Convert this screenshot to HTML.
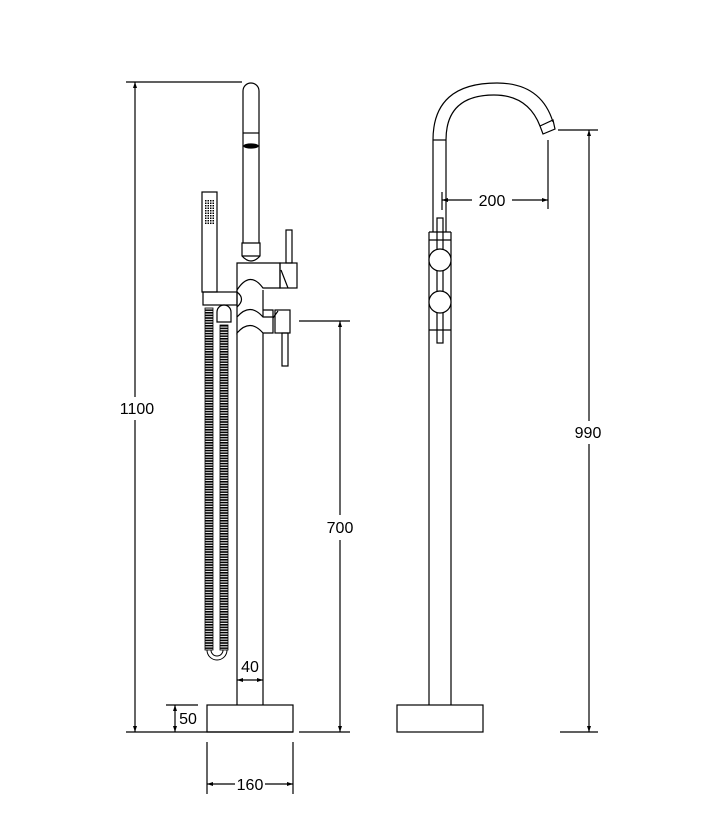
<!DOCTYPE html>
<html><head><style>html,body{margin:0;padding:0;background:#fff}svg{display:block}text{font-family:"Liberation Sans",Arial,sans-serif;font-size:16px;fill:#000}</style></head>
<body>
<svg width="723" height="839" viewBox="0 0 723 839" xmlns="http://www.w3.org/2000/svg">
<defs>
<pattern id="hs" width="8" height="2.6" patternUnits="userSpaceOnUse"><rect width="8" height="1.6" fill="#000"/></pattern>
<pattern id="dots" width="2.5" height="2.5" patternUnits="userSpaceOnUse"><rect width="1.5" height="1.5" fill="#000"/></pattern>
<marker id="a" viewBox="0 0 6 6" refX="6" refY="3" markerWidth="5" markerHeight="5" orient="auto-start-reverse"><path d="M0,1 L6,3 L0,5z" fill="#000"/></marker>
</defs>
<g fill="none" stroke="#000" stroke-width="1.2">
<!-- LEFT VIEW -->
<path d="M243,243 V91 A8,8 0 0 1 259,91 V243"/>
<line x1="243" y1="133" x2="259" y2="133"/>
<ellipse cx="251" cy="146" rx="7" ry="2" fill="#000"/>
<path d="M242,243 H260 V256 Q251,266 242,256 Z"/>
<line x1="242" y1="256" x2="260" y2="256"/>
<!-- upper body -->
<path d="M237,263 H280 V288 H263 Q250,270 237,290 Z"/>
<rect x="286" y="230" width="6" height="33"/>
<rect x="280" y="263" width="17" height="25"/>
<line x1="281" y1="270" x2="288" y2="288"/>
<!-- connector -->
<line x1="237" y1="290" x2="237" y2="317"/>
<line x1="263" y1="290" x2="263" y2="317"/>
<!-- holder -->
<rect x="203" y="292" width="34" height="13"/>
<path d="M237,292 Q246,299 237,307"/>
<!-- lower body -->
<path d="M237,317 Q250,302 263,317 H273 V333 H263 Q250,318 237,333 Z"/>
<path d="M263,310 H273 V317"/>
<rect x="275" y="310" width="15" height="23"/>
<line x1="273" y1="318" x2="278" y2="311"/>
<rect x="282" y="333" width="6" height="33"/>
<!-- handshower -->
<rect x="202" y="192" width="15" height="100"/>
<rect x="205" y="200" width="9" height="25" fill="url(#dots)" stroke="none"/>
<!-- stem -->
<line x1="237" y1="333" x2="237" y2="705"/>
<line x1="263" y1="333" x2="263" y2="705"/>
<!-- hoses -->
<rect x="205" y="308" width="8" height="342" fill="url(#hs)" stroke="#000" stroke-width="0.8"/>
<rect x="220" y="325" width="8" height="325" fill="url(#hs)" stroke="#000" stroke-width="0.8"/>
<path d="M217,322 V312 A7,7 0 0 1 231,312 V322 Z"/>
<path d="M207,650 A10,10 0 0 0 227,650 M211,650 A6,6 0 0 0 223,650" stroke-width="1"/>
<!-- base -->
<rect x="207" y="705" width="86" height="27"/>
<!-- dims left -->
<line x1="126" y1="82" x2="242" y2="82"/>
<line x1="126" y1="732" x2="293" y2="732"/>
<line x1="299" y1="732" x2="350" y2="732"/>
<line x1="135" y1="82" x2="135" y2="397" marker-start="url(#a)"/>
<line x1="135" y1="420" x2="135" y2="732" marker-end="url(#a)"/>
<line x1="166" y1="705" x2="198" y2="705"/>
<line x1="175" y1="705" x2="175" y2="732" marker-start="url(#a)" marker-end="url(#a)"/>
<line x1="299" y1="321" x2="350" y2="321"/>
<line x1="340" y1="321" x2="340" y2="515" marker-start="url(#a)"/>
<line x1="340" y1="540" x2="340" y2="732" marker-end="url(#a)"/>
<line x1="237" y1="680" x2="263" y2="680" marker-start="url(#a)" marker-end="url(#a)"/>
<line x1="207" y1="742" x2="207" y2="794"/>
<line x1="293" y1="742" x2="293" y2="794"/>
<line x1="207" y1="784" x2="235" y2="784" marker-start="url(#a)"/>
<line x1="265" y1="784" x2="293" y2="784" marker-end="url(#a)"/>
<!-- RIGHT VIEW -->
<path d="M433,140 Q433,83 497,83 Q541,83 553,122"/>
<path d="M446,140 Q446,95 494,95 Q528,95 540,126"/>
<path d="M540,126 L553,120 L555,129 L543,134 Z"/>
<line x1="433" y1="140" x2="446" y2="140"/>
<line x1="433" y1="140" x2="433" y2="232"/>
<line x1="446" y1="140" x2="446" y2="232"/>
<rect x="437" y="218" width="6" height="125"/>
<line x1="429" y1="232" x2="429" y2="705"/>
<line x1="451" y1="232" x2="451" y2="705"/>
<line x1="429" y1="232" x2="451" y2="232"/>
<line x1="429" y1="240" x2="451" y2="240"/>
<line x1="429" y1="330" x2="451" y2="330"/>
<circle cx="440" cy="260" r="11" fill="#fff"/>
<circle cx="440" cy="302" r="11" fill="#fff"/>
<rect x="397" y="705" width="86" height="27"/>
<!-- dims right -->
<line x1="548" y1="140" x2="548" y2="209"/>
<line x1="442" y1="192" x2="442" y2="210"/>
<line x1="442" y1="200" x2="472" y2="200" marker-start="url(#a)"/>
<line x1="512" y1="200" x2="548" y2="200" marker-end="url(#a)"/>
<line x1="558" y1="130" x2="598" y2="130"/>
<line x1="560" y1="732" x2="598" y2="732"/>
<line x1="589" y1="130" x2="589" y2="421" marker-start="url(#a)"/>
<line x1="589" y1="444" x2="589" y2="732" marker-end="url(#a)"/>
</g>
<g>
<text x="137" y="414" text-anchor="middle">1100</text>
<text x="340" y="533" text-anchor="middle">700</text>
<text x="250" y="672" text-anchor="middle">40</text>
<text x="188" y="724" text-anchor="middle">50</text>
<text x="250" y="790" text-anchor="middle">160</text>
<text x="492" y="206" text-anchor="middle">200</text>
<text x="588" y="438" text-anchor="middle">990</text>
</g>
</svg>
</body></html>
